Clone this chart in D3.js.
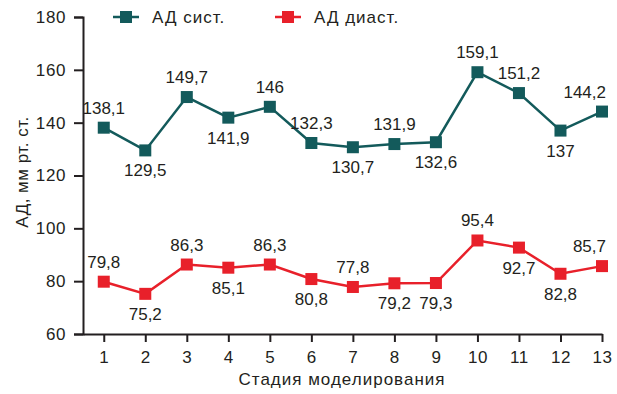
<!DOCTYPE html>
<html>
<head>
<meta charset="utf-8">
<script src="https://cdn.jsdelivr.net/npm/d3@7"></script>
<style>
  body { margin: 0; background: #fff; }
  text { font-family: "Liberation Sans", Arial, sans-serif; fill: #231f20; }
</style>
</head>
<body>
<div id="chart"></div>
<script>
// data
const stages = [1, 2, 3, 4, 5, 6, 7, 8, 9, 10, 11, 12, 13]
const sysValues = [138.1, 129.5, 149.7, 141.9, 146, 132.3, 130.7, 131.9, 132.6, 159.1, 151.2, 137, 144.2]
const diaValues = [79.8, 75.2, 86.3, 85.1, 86.3, 80.8, 77.8, 79.2, 79.3, 95.4, 92.7, 82.8, 85.7]
// label above (1) or below (-1) the point
const sysSide = [1, -1, 1, -1, 1, 1, -1, 1, -1, 1, 1, -1, 1]
const diaSide = [1, -1, 1, -1, 1, -1, 1, -1, -1, 1, -1, -1, 1]
const yTicks = [60, 80, 100, 120, 140, 160, 180]
const seriesNames = ["АД сист.", "АД диаст."]
const colors = ["#135a5b", "#e8202a"]

const width = 617, height = 394
const svg = d3.select("#chart").append("svg")
  .attr("width", width)
  .attr("height", height)

const x = d3.scaleLinear().domain([0.5, 13]).range([83, 602])
const y = d3.scaleLinear().domain([60, 180]).range([334, 17])

const axisColor = "#231f20"
const font = "Liberation Sans, Arial, sans-serif"

// y axis
const yAxis = svg.append("g")
  .attr("transform", "translate(83,0)")
  .call(d3.axisLeft(y).tickValues(yTicks).tickSize(9).tickPadding(8))
yAxis.select(".domain").attr("stroke", axisColor).attr("stroke-width", 2)
yAxis.selectAll(".tick line").attr("stroke", axisColor).attr("stroke-width", 2)
yAxis.selectAll(".tick text")
  .style("font-size", "17px").style("font-family", font)
  .style("letter-spacing", "0.6px").attr("fill", axisColor)

// x axis
const xAxis = svg.append("g")
  .attr("transform", "translate(0,334)")
  .call(d3.axisBottom(x).tickValues(stages).tickSize(8).tickPadding(9).tickSizeOuter(0))
xAxis.select(".domain").attr("stroke", axisColor).attr("stroke-width", 2)
xAxis.selectAll(".tick line").attr("stroke", axisColor).attr("stroke-width", 2)
xAxis.selectAll(".tick text")
  .style("font-size", "17px").style("font-family", font)
  .style("letter-spacing", "0.6px").attr("fill", axisColor)

// axis titles
svg.append("text")
  .attr("x", 342).attr("y", 385)
  .attr("text-anchor", "middle")
  .style("font-size", "17px")
  .style("letter-spacing", "1px")
  .text("Стадия моделирования")

svg.append("text")
  .attr("transform", "translate(28,172) rotate(-90)")
  .attr("text-anchor", "middle")
  .style("font-size", "17px")
  .style("letter-spacing", "0.5px")
  .text("АД, мм рт. ст.")

const series = [
  {name: seriesNames[0], values: sysValues, side: sysSide, color: colors[0]},
  {name: seriesNames[1], values: diaValues, side: diaSide, color: colors[1]}
]

const line = d3.line()
  .x((d, i) => x(stages[i]))
  .y(d => y(d))

const ms = 12
const last = stages.length - 1

series.forEach(s => {
  svg.append("path")
    .attr("d", line(s.values))
    .attr("fill", "none")
    .attr("stroke", s.color)
    .attr("stroke-width", 2.5)

  svg.selectAll(null)
    .data(s.values)
    .join("rect")
      .attr("x", (d, i) => x(stages[i]) - ms / 2)
      .attr("y", d => y(d) - ms / 2)
      .attr("width", ms)
      .attr("height", ms)
      .attr("fill", s.color)

  // the last label is pulled left so it stays inside the picture
  svg.selectAll(null)
    .data(s.values)
    .join("text")
      .attr("x", (d, i) => i === last ? 606 : x(stages[i]))
      .attr("y", (d, i) => y(d) + (s.side[i] > 0 ? -14 : 26))
      .attr("text-anchor", (d, i) => i === last ? "end" : "middle")
      .style("font-size", "17px")
      .text(d => String(d).replace(".", ","))
})

// legend
const legend = svg.selectAll("myLegend")
  .data(series)
  .join("g")
    .attr("transform", (d, i) => `translate(${113 + i * 162},17)`)
legend.append("line")
  .attr("x1", 0).attr("x2", 26)
  .attr("stroke", d => d.color)
  .attr("stroke-width", 2.5)
legend.append("rect")
  .attr("x", 13 - ms / 2).attr("y", -ms / 2)
  .attr("width", ms).attr("height", ms)
  .attr("fill", d => d.color)
legend.append("text")
  .attr("x", 39).attr("y", 6)
  .style("font-size", "17px")
  .style("letter-spacing", "1px")
  .text(d => d.name)
</script>
</body>
</html>
